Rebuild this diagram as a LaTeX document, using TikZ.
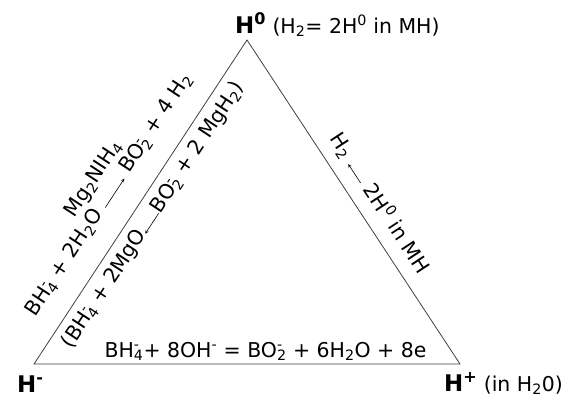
\documentclass[tikz,border=0pt]{standalone}
\usepackage{amsmath}
\usepackage{fontspec}
\setmainfont{DejaVu Sans}
\usepackage{tikz}

% ion with stacked sub- and superscript
\newcommand{\ion}[2]{\rlap{\textsuperscript{#2}}\textsubscript{#1}}
\newcommand{\hlab}[1]{{\fontsize{23}{26}\selectfont\bfseries H\textsuperscript{#1}}}
\newcommand{\rarr}[1]{\tikz[baseline=-0.1em]\draw[-stealth, line width=0.6bp] (0,0) -- (#1,0);}
\newcommand{\larr}[1]{\tikz[baseline=-0.1em]\draw[stealth-, line width=0.6bp] (0,0) -- (#1,0);}
\newcommand{\catarrow}[2]{\ooalign{\rarr{#1}\cr\hidewidth\raisebox{22bp}{#2}\hidewidth\cr}}

\begin{document}
\begin{tikzpicture}[x=1bp, y=-1bp, font=\fontsize{20.5}{24}\selectfont,
  side/.style={draw=black!75, line width=0.8bp},
  reac/.style={inner sep=0pt, anchor=base}]
  \useasboundingbox (0,0) rectangle (568,398);
  \coordinate (top) at (247,40);
  \coordinate (left) at (34,364);
  \coordinate (right) at (460,364);
  \draw[side] (top) -- (left) -- (right) -- cycle;
  % corners
  \node[reac, anchor=base west] (h0) at (235,33) {\hlab{0} (H\textsubscript{2}= 2H\textsuperscript{0} in MH)};
  \node[reac, anchor=base west] (hminus) at (17,392) {\hlab{-}};
  \node[reac, anchor=base west] (hplus) at (444,391) {\hlab{+} (in H\textsubscript{2}0)};
  % sides
  \node[reac, rotate=56.68] (fwd) at (114,198) {BH\ion{4}{-} + 2H\textsubscript{2}O \catarrow{1.7em}{Mg\textsubscript{2}NIH\textsubscript{4}} BO\ion{2}{-} + 4 H\textsubscript{2}};
  \node[reac, rotate=56.68] (rev) at (158,218) {(BH\ion{4}{-} + 2MgO\larr{1.2em}BO\ion{2}{-} + 2 MgH\textsubscript{2})};
  \node[reac, rotate=-56.68] (split) at (374,207) {H\textsubscript{2} \larr{1.1em} 2H\textsuperscript{0} in MH};
  \node[reac] (oxid) at (265.5,357) {BH\ion{4}{-}+ 8OH\textsuperscript{-} = BO\ion{2}{-} + 6H\textsubscript{2}O + 8e};
\end{tikzpicture}
\end{document}
